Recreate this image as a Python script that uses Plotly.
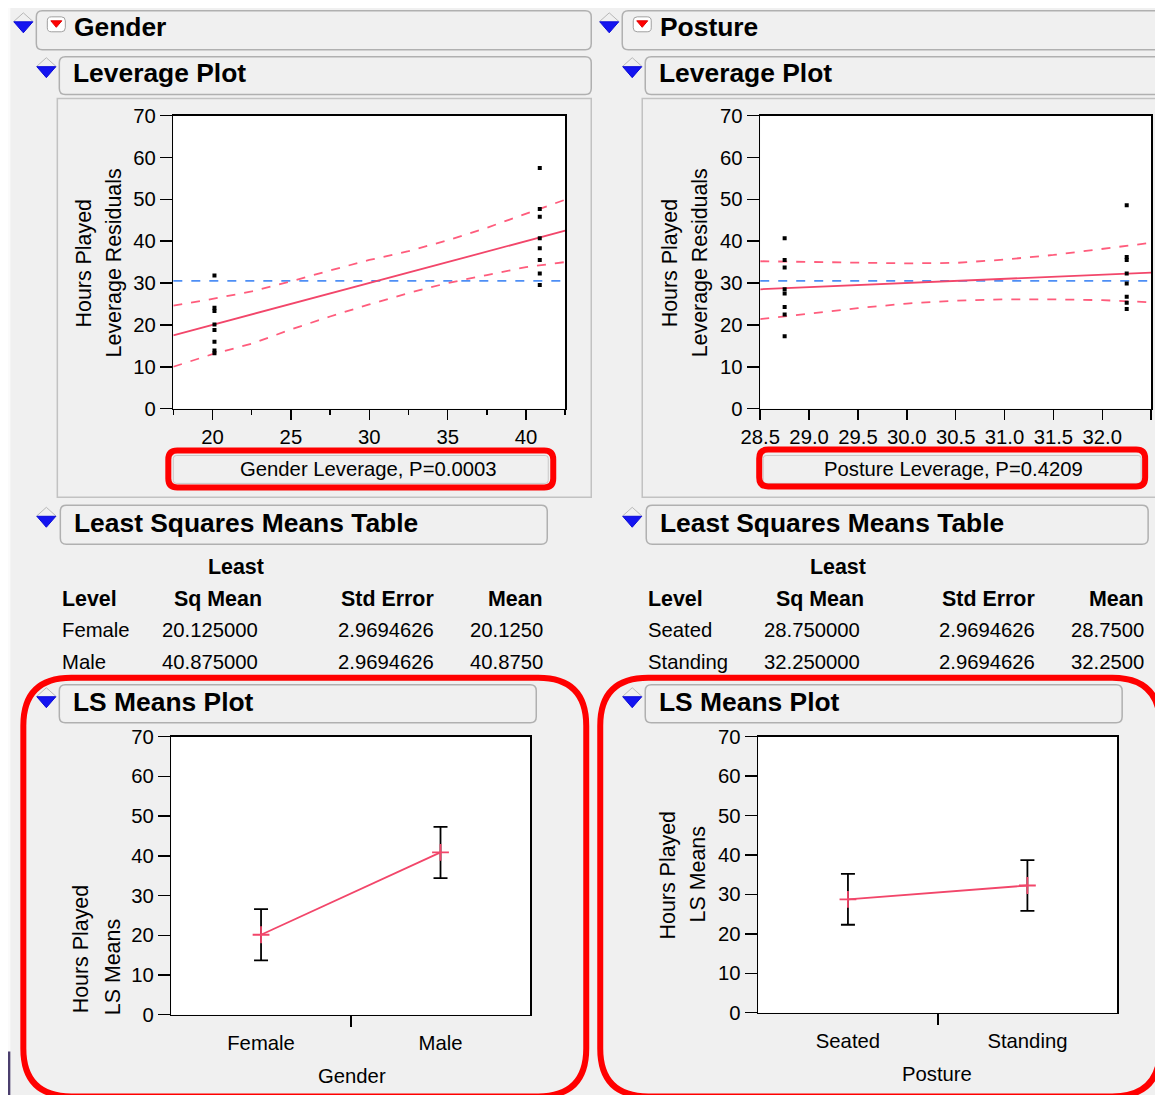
import plotly.graph_objects as go

# ---------------- data ----------------
# Gender leverage plot
gender_female_x = 20.125
gender_male_x = 40.875
gender_female_y = [31.8, 24.1, 23.3, 20.1, 18.8, 16.0, 13.9, 13.2]
gender_male_y = [57.5, 47.7, 45.8, 40.7, 38.3, 35.5, 32.3, 29.5]
gender_ci_x = [17.5, 20, 22.5, 25, 27.5, 30, 32.5, 35, 37.5, 40, 42.5]
gender_ci_upper = [24.6, 26.2, 28.0, 30.4, 33.0, 35.5, 37.6, 40.2, 43.2, 46.6, 49.9]
gender_ci_lower = [10.0, 13.0, 15.5, 18.9, 22.0, 24.9, 27.6, 30.0, 31.9, 33.8, 35.0]
gender_lev_range = [17.5, 42.5]
gender_lev_ticks = [20, 25, 30, 35, 40]
gender_lev_minor = [17.5, 22.5, 27.5, 32.5, 37.5, 42.5]

# Posture leverage plot
posture_seated_x = 28.75
posture_standing_x = 32.25
posture_seated_y = [40.7, 35.5, 33.7, 28.5, 27.5, 24.3, 22.5, 17.3]
posture_standing_y = [48.6, 36.2, 35.5, 32.3, 29.9, 26.7, 25.3, 23.8]
posture_ci_x = [28.5, 29.0, 29.5, 30.0, 30.5, 31.0, 31.5, 32.0, 32.5]
posture_ci_upper = [35.2, 35.0, 34.8, 34.7, 34.8, 35.6, 36.7, 38.1, 39.6]
posture_ci_lower = [21.4, 22.7, 24.0, 25.1, 25.8, 26.1, 26.1, 25.9, 25.4]
posture_lev_range = [28.5, 32.5]
posture_lev_ticks = [28.5, 29.0, 29.5, 30.0, 30.5, 31.0, 31.5, 32.0, 32.5]
posture_lev_ticktext = ["28.5", "29.0", "29.5", "30.0", "30.5", "31.0", "31.5", "32.0", ""]

overall_mean = 30.5
y_ticks = [0, 10, 20, 30, 40, 50, 60, 70]

# Least squares means tables
gender_levels = ["Female", "Male"]
gender_lsmean = [20.125, 40.875]
gender_stderr = [2.9694626, 2.9694626]
gender_mean = [20.125, 40.875]
gender_ci_hi = [26.6, 47.3]
gender_ci_lo = [13.7, 34.4]

posture_levels = ["Seated", "Standing"]
posture_lsmean = [28.75, 32.25]
posture_stderr = [2.9694626, 2.9694626]
posture_mean = [28.75, 32.25]
posture_ci_hi = [35.2, 38.7]
posture_ci_lo = [22.3, 25.8]

gender_p = "0.0003"
posture_p = "0.4209"

# ---------------- helpers ----------------
PAGE_OFF = 8                      # default page margin of the browser
W, H = 1163 - PAGE_OFF + 10, 1095 - PAGE_OFF + 10
# the captured picture is placed with a small offset / scale; compensate for it
CAP_X, CAP_Y, CAP_S = 19.8, 9.3, 0.983
FONT = "Liberation Sans, Arial, sans-serif"
RED_LINE = "#f2466a"
RED_DASH = "#ff5c7c"
BLUE_DASH = "#4d8ef5"
BG = "#f0f0f0"


def X(p):
    return ((p - CAP_X) / CAP_S - PAGE_OFF) / W


def Y(p):
    return 1 - ((p - CAP_Y) / CAP_S - PAGE_OFF) / H


def fs(size):
    return round(size / CAP_S, 1)


def rrect(x0, y0, x1, y1, r):
    pts = [
        ("M", [(x0 + r, y0)]), ("L", [(x1 - r, y0)]), ("Q", [(x1, y0), (x1, y0 + r)]),
        ("L", [(x1, y1 - r)]), ("Q", [(x1, y1), (x1 - r, y1)]), ("L", [(x0 + r, y1)]),
        ("Q", [(x0, y1), (x0, y1 - r)]), ("L", [(x0, y0 + r)]), ("Q", [(x0, y0), (x0 + r, y0)]),
    ]
    s = ""
    for cmd, ps in pts:
        s += cmd + " " + " ".join(f"{X(a):.5f},{Y(b):.5f}" for a, b in ps) + " "
    return s + "Z"


def poly(points):
    return "M " + " L ".join(f"{X(a):.5f},{Y(b):.5f}" for a, b in points) + " Z"


shapes = []
annotations = []


def add_shape_path(path, line_color, line_width, fill="rgba(0,0,0,0)", layer="above"):
    shapes.append(dict(type="path", xref="paper", yref="paper", path=path,
                       line=dict(color=line_color, width=line_width), fillcolor=fill, layer=layer))


def text(x, y, s, size=20, bold=False, xanchor="left", yanchor="middle", angle=0, color="black"):
    if bold:
        s = "<b>" + s + "</b>"
    annotations.append(dict(x=X(x), y=Y(y), xref="paper", yref="paper", text=s, showarrow=False,
                            xanchor=xanchor, yanchor=yanchor, textangle=angle,
                            font=dict(family=FONT, size=fs(size), color=color)))


def blue_tri(cx, top):
    add_shape_path(f"M {X(cx-10):.5f},{Y(top):.5f} L {X(cx):.5f},{Y(top-9):.5f} L {X(cx+10):.5f},{Y(top):.5f}",
                   "#b8b8b8", 1)
    add_shape_path(poly([(cx - 9.5, top), (cx + 9.5, top), (cx, top + 11)]), "#0a0ad8", 1, fill="#1414f0")


def red_icon(x0, y0):
    add_shape_path(rrect(x0, y0, x0 + 18, y0 + 15, 4), "#a0a0a0", 1, fill="white")
    add_shape_path(poly([(x0 + 3.5, y0 + 4), (x0 + 14.5, y0 + 4), (x0 + 9, y0 + 10.5)]), "#e00000", 1, fill="#ff0000")


def header_box(x0, y0, x1, y1, label, tx, dy=-2):
    add_shape_path(rrect(x0, y0, x1, y1, 6), "#b0b0b0", 1.5, fill=BG, layer="below")
    text(tx, (y0 + y1) / 2 + dy, label, size=26, bold=True)


# ---------------- background decorations ----------------
shapes.append(dict(type="rect", xref="paper", yref="paper", x0=X(-30), x1=X(10), y0=Y(1053), y1=Y(-30),
                   line=dict(width=0), fillcolor="#fbfbfb", layer="below"))
shapes.append(dict(type="rect", xref="paper", yref="paper", x0=X(-30), x1=X(10), y0=Y(1120), y1=Y(1053),
                   line=dict(width=0), fillcolor="#4b3f6e", layer="below"))

# column headers
for off, name in [(0, "Gender"), (586, "Posture")]:
    right = 591 if off == 0 else 1180
    blue_tri(23 + off, 20)
    header_box(36 + off, 9, right, 48, name, 72 + off, dy=-3)
    red_icon(47 + off, 15)
    blue_tri(46 + off, 65)
    header_box(59 + off, 55, right, 93, "Leverage Plot", 71 + off, dy=-3)
    blue_tri(46 + off, 516)
    header_box(60 + off, 505, (547 if off == 0 else 1148), 544, "Least Squares Means Table", 72 + off)
    blue_tri(46 + off, 697)
    header_box(59 + off, 685, (536 if off == 0 else 1122), 723, "LS Means Plot", 71 + off)

# leverage panels
shapes.append(dict(type="rect", xref="paper", yref="paper", x0=X(57), x1=X(591), y0=Y(497), y1=Y(97),
                   line=dict(color="#c2c2c2", width=1.5), fillcolor="rgba(0,0,0,0)", layer="below"))
shapes.append(dict(type="rect", xref="paper", yref="paper", x0=X(642), x1=X(1159), y0=Y(497), y1=Y(97),
                   line=dict(color="#c2c2c2", width=1.5), fillcolor="rgba(0,0,0,0)", layer="below"))

# axis-title boxes for leverage plots
add_shape_path(rrect(173, 455, 548, 483, 3), "#c8c8c8", 1, layer="below")
add_shape_path(rrect(763, 455, 1141, 483, 3), "#c8c8c8", 1, layer="below")
text(368, 469, f"Gender Leverage, P={gender_p}", size=20, xanchor="center")
text(953, 469, f"Posture Leverage, P={posture_p}", size=20, xanchor="center")

# y-axis titles
text(84, 262, "Hours Played", size=21, xanchor="center", angle=-90)
text(114, 262, "Leverage Residuals", size=21, xanchor="center", angle=-90)
text(670, 262, "Hours Played", size=21, xanchor="center", angle=-90)
text(700, 262, "Leverage Residuals", size=21, xanchor="center", angle=-90)
text(81, 950, "Hours Played", size=21, xanchor="center", angle=-90)
text(113, 968, "LS Means", size=21, xanchor="center", angle=-90)
text(668, 876, "Hours Played", size=21, xanchor="center", angle=-90)
text(698, 875, "LS Means", size=21, xanchor="center", angle=-90)

# x-axis titles of LS plots
text(352, 1077, "Gender", size=20, xanchor="center")
text(937, 1075, "Posture", size=20, xanchor="center")


# ---------------- tables ----------------
def table(off, levels, lsm, se, mean, hdr_right, value_right):
    text(hdr_right[0] - 28 + off, 567, "Least", size=21, bold=True, xanchor="center")
    text(60 + off, 599, "Level", size=21, bold=True)
    text(hdr_right[0] + off, 599, "Sq Mean", size=21, bold=True, xanchor="right")
    text(hdr_right[1] + off, 599, "Std Error", size=21, bold=True, xanchor="right")
    text(hdr_right[2] + off, 599, "Mean", size=21, bold=True, xanchor="right")
    for i, lv in enumerate(levels):
        yy = 630 + 32 * i
        text(60 + off, yy, lv, size=20)
        text(value_right[0] + off, yy, f"{lsm[i]:.6f}", size=20, xanchor="right")
        text(value_right[1] + off, yy, f"{se[i]:.7f}", size=20, xanchor="right")
        text(value_right[2] + off, yy, f"{mean[i]:.4f}", size=20, xanchor="right")


table(0, gender_levels, gender_lsmean, gender_stderr, gender_mean, [264, 436, 545], [260, 436, 545])
table(586, posture_levels, posture_lsmean, posture_stderr, posture_mean, [280, 451, 560], [276, 451, 560])

# red highlight boxes (drawn above)
add_shape_path(rrect(168, 450, 553, 487, 9), "#ff0000", 6)
add_shape_path(rrect(759, 449, 1145, 486, 9), "#ff0000", 6)
add_shape_path(rrect(23, 678, 586, 1098, 48), "#ff0000", 6)
add_shape_path(rrect(600, 678, 1160, 1098, 48), "#ff0000", 6)

# ---------------- figure ----------------
fig = go.Figure()

tickfont = dict(family=FONT, size=fs(20), color="black")
frame = dict(showline=True, linecolor="black", linewidth=1.5, mirror=True, showgrid=False, zeroline=False,
             tickfont=tickfont, tickcolor="black", tickwidth=1.5, fixedrange=True)

# Gender leverage
fig.add_trace(go.Scatter(x=gender_ci_x, y=gender_ci_upper, mode="lines", xaxis="x", yaxis="y",
                         line=dict(color=RED_DASH, width=1.8, dash="dash"), hoverinfo="skip"))
fig.add_trace(go.Scatter(x=gender_ci_x, y=gender_ci_lower, mode="lines", xaxis="x", yaxis="y",
                         line=dict(color=RED_DASH, width=1.8, dash="dash"), hoverinfo="skip"))
fig.add_trace(go.Scatter(x=gender_lev_range, y=gender_lev_range, mode="lines", xaxis="x", yaxis="y",
                         line=dict(color=RED_LINE, width=1.8)))
fig.add_trace(go.Scatter(x=[gender_female_x] * len(gender_female_y) + [gender_male_x] * len(gender_male_y),
                         y=gender_female_y + gender_male_y, mode="markers", xaxis="x", yaxis="y",
                         marker=dict(symbol="square", size=4, color="black")))

# Posture leverage
fig.add_trace(go.Scatter(x=posture_ci_x, y=posture_ci_upper, mode="lines", xaxis="x2", yaxis="y2",
                         line=dict(color=RED_DASH, width=1.8, dash="dash"), hoverinfo="skip"))
fig.add_trace(go.Scatter(x=posture_ci_x, y=posture_ci_lower, mode="lines", xaxis="x2", yaxis="y2",
                         line=dict(color=RED_DASH, width=1.8, dash="dash"), hoverinfo="skip"))
fig.add_trace(go.Scatter(x=posture_lev_range, y=posture_lev_range, mode="lines", xaxis="x2", yaxis="y2",
                         line=dict(color=RED_LINE, width=1.8)))
fig.add_trace(go.Scatter(x=[posture_seated_x] * len(posture_seated_y) + [posture_standing_x] * len(posture_standing_y),
                         y=posture_seated_y + posture_standing_y, mode="markers", xaxis="x2", yaxis="y2",
                         marker=dict(symbol="square", size=4, color="black")))

# overall mean lines (blue dashed)
for xr, yr in [("x domain", "y"), ("x2 domain", "y2")]:
    shapes.append(dict(type="line", xref=xr, yref=yr, x0=0, x1=1, y0=overall_mean, y1=overall_mean,
                       line=dict(color=BLUE_DASH, width=1.8, dash="dash"), layer="below"))


def ls_trace(lsm, lo, hi, xa, ya):
    xs = list(range(len(lsm)))
    fig.add_trace(go.Scatter(
        x=xs, y=lsm, mode="lines+markers", xaxis=xa, yaxis=ya,
        line=dict(color=RED_LINE, width=1.8),
        marker=dict(symbol="cross-thin", size=12, line=dict(color=RED_LINE, width=1.8)),
        error_y=dict(type="data", symmetric=False,
                     array=[h - m for h, m in zip(hi, lsm)],
                     arrayminus=[m - l for l, m in zip(lo, lsm)],
                     color="black", thickness=1.8, width=7)))


ls_trace(gender_lsmean, gender_ci_lo, gender_ci_hi, "x3", "y3")
ls_trace(posture_lsmean, posture_ci_lo, posture_ci_hi, "x4", "y4")

yax = dict(frame, range=[0, 70], tickvals=y_ticks, ticks="outside", ticklen=12)


def ls_x(levels):
    return dict(frame, range=[-0.5, 1.5], tickvals=[0, 1], ticktext=levels, ticks="",
                ticklabelstandoff=9,
                minor=dict(ticks="outside", tickmode="array", tickvals=[0.5], ticklen=11,
                           tickcolor="black", tickwidth=1.8))


fig.update_layout(
    width=W, height=H, autosize=False, margin=dict(l=0, r=0, t=0, b=0),
    paper_bgcolor=BG, plot_bgcolor="white", showlegend=False,
    xaxis=dict(frame, domain=[X(173), X(565)], range=gender_lev_range, tickvals=gender_lev_ticks,
               ticks="outside", ticklen=10, anchor="y",
               minor=dict(ticks="outside", tickmode="array", tickvals=gender_lev_minor, ticklen=5,
                          tickcolor="black", tickwidth=1.5)),
    yaxis=dict(yax, domain=[Y(408), Y(114)], anchor="x"),
    xaxis2=dict(frame, domain=[X(760), X(1151)], range=posture_lev_range, tickvals=posture_lev_ticks,
                ticktext=posture_lev_ticktext, ticks="outside", ticklen=10, anchor="y2"),
    yaxis2=dict(yax, domain=[Y(408), Y(114)], anchor="x2"),
    xaxis3=dict(ls_x(gender_levels), domain=[X(171), X(530)], anchor="y3"),
    yaxis3=dict(yax, domain=[Y(1016), Y(737)], anchor="x3"),
    xaxis4=dict(ls_x(posture_levels), domain=[X(758), X(1117)], anchor="y4"),
    yaxis4=dict(yax, domain=[Y(1014), Y(737)], anchor="x4"),
    shapes=shapes, annotations=annotations,
)

fig.write_html("out.html", config={"displayModeBar": False, "staticPlot": True})
